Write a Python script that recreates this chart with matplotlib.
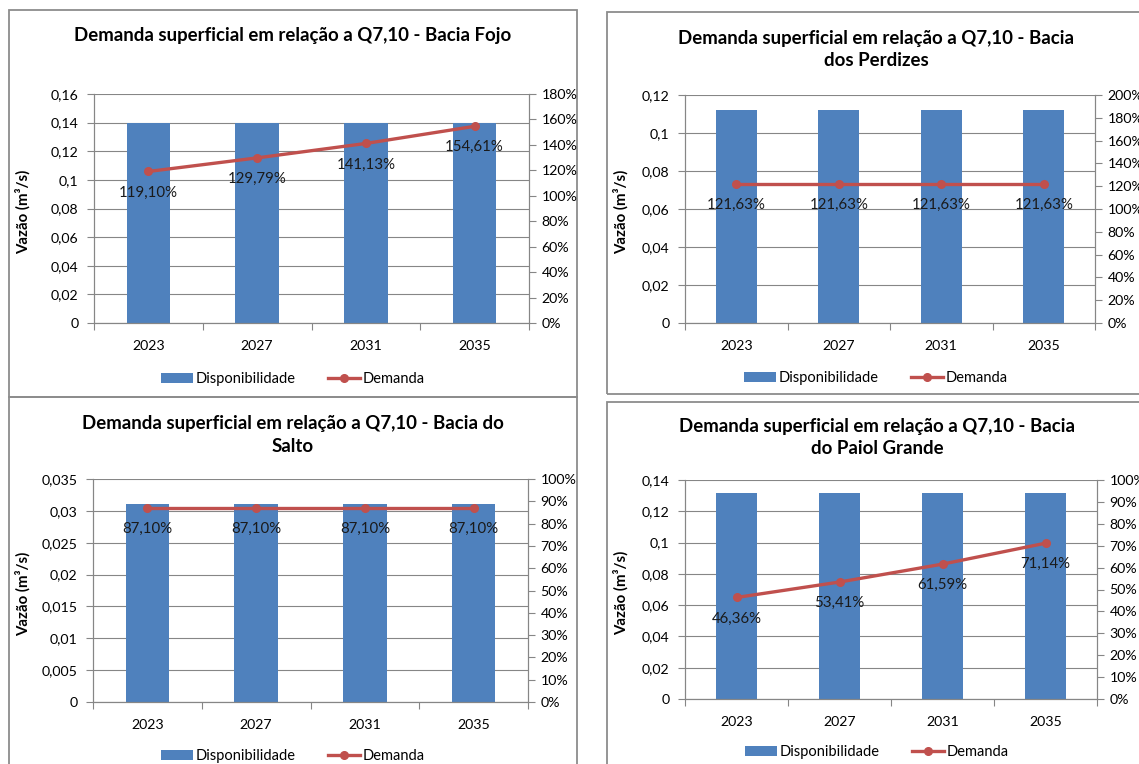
import matplotlib
matplotlib.use("Agg")
import matplotlib.pyplot as plt
from matplotlib.patches import Rectangle, Patch
from matplotlib.lines import Line2D
from matplotlib.ticker import FixedLocator, FuncFormatter

plt.rcParams["font.family"] = ["Lato", "DejaVu Sans"]

# ---- data -------------------------------------------------------------
anos = ["2023", "2027", "2031", "2035"]

fojo_disp = [0.14, 0.14, 0.14, 0.14]
fojo_dem = [119.10, 129.79, 141.13, 154.61]

perdizes_disp = [0.112, 0.112, 0.112, 0.112]
perdizes_dem = [121.63, 121.63, 121.63, 121.63]

salto_disp = [0.031, 0.031, 0.031, 0.031]
salto_dem = [87.10, 87.10, 87.10, 87.10]

paiol_disp = [0.1317, 0.1317, 0.1317, 0.1317]
paiol_dem = [46.36, 53.41, 61.59, 71.14]

titulos = [
    "Demanda superficial em relação a Q7,10 - Bacia Fojo",
    "Demanda superficial em relação a Q7,10 - Bacia\ndos Perdizes",
    "Demanda superficial em relação a Q7,10 - Bacia do\nSalto",
    "Demanda superficial em relação a Q7,10 - Bacia\ndo Paiol Grande",
]

# ---- style -------------------------------------------------------------
W, H = 1139, 764
AZUL = "#4F81BD"
VERMELHO = "#C0504D"
CINZA = "#868686"
BORDA = "#8C8C8C"
FS_TICK = 10.2
FS_TITLE = 13.4

fig = plt.figure(figsize=(W / 100, H / 100), dpi=100)
fig.patch.set_facecolor("white")


def fx(x):
    return x / W


def fy(y):
    return 1 - y / H


def moldura(l, t, r, b):
    fig.patches.append(Rectangle((fx(l), fy(b)), fx(r) - fx(l), fy(t) - fy(b),
                                 transform=fig.transFigure, fill=False,
                                 edgecolor=BORDA, linewidth=1.3, zorder=0))


def virgula(v, _pos=None):
    return ("%g" % round(v, 6)).replace(".", ",")


def grafico(box, panel_cx, title_y, ylab_x, legend_y, xlab_pad,
            disp, dem, ymax, ystep, pmax, pstep, titulo):
    l, t, r, b = box
    ax = fig.add_axes([fx(l), fy(b), fx(r) - fx(l), fy(t) - fy(b)])
    ax2 = ax.twinx()
    ax2.set_zorder(ax.get_zorder() + 1)
    ax2.patch.set_visible(False)

    x = list(range(len(anos)))
    ax.bar(x, disp, width=0.4, color=AZUL, zorder=2)
    ax.set_xlim(-0.5, len(anos) - 0.5)
    ax.set_ylim(0, ymax)
    n = int(round(ymax / ystep))
    ax.yaxis.set_major_locator(FixedLocator([i * ystep for i in range(n + 1)]))
    ax.yaxis.set_major_formatter(FuncFormatter(virgula))
    ax.set_axisbelow(True)
    ax.grid(axis="y", color=CINZA, linewidth=0.8, zorder=0)
    ax.grid(axis="x", visible=False)

    ax.set_xticks(x)
    ax.set_xticklabels(anos)
    ax.set_xticks([i - 0.5 for i in range(len(anos) + 1)], minor=True)
    ax.tick_params(axis="x", which="major", length=0, pad=xlab_pad,
                   labelsize=FS_TICK)
    ax.tick_params(axis="x", which="minor", length=5, color=CINZA, width=0.8)
    ax.tick_params(axis="y", length=5, color=CINZA, width=0.8, pad=6,
                   labelsize=FS_TICK)

    frac = [v / 100 for v in dem]
    ax2.plot(x, frac, color=VERMELHO, linewidth=2.4, marker="o",
             markersize=5.5, zorder=3, clip_on=False)
    ax2.set_ylim(0, pmax / 100)
    m = int(round(pmax / pstep))
    ax2.yaxis.set_major_locator(FixedLocator([i * pstep / 100 for i in range(m + 1)]))
    ax2.yaxis.set_major_formatter(FuncFormatter(lambda v, p: "%d%%" % round(v * 100)))
    ax2.tick_params(axis="y", length=5, color=CINZA, width=0.8, pad=4,
                    labelsize=FS_TICK)

    for xi, v in zip(x, dem):
        ax2.annotate(("%.2f%%" % v).replace(".", ","), xy=(xi, v / 100),
                     xytext=(0, -21), textcoords="offset pixels",
                     ha="center", va="center", fontsize=FS_TICK + 0.6,
                     color="#1a1a1a", zorder=4)

    for a in (ax, ax2):
        a.spines["top"].set_visible(False)
        for s in ("left", "right", "bottom"):
            a.spines[s].set_color(CINZA)
            a.spines[s].set_linewidth(0.8)

    fig.text(fx(panel_cx), fy(title_y), titulo, ha="center", va="center",
             fontsize=FS_TITLE, fontweight="bold", linespacing=1.42)
    fig.text(fx(ylab_x), fy((t + b) / 2 + 3), "Vazão (m³/s)", rotation=90,
             ha="center", va="center", fontsize=FS_TICK + 0.6, fontweight="bold")

    handles = [Patch(facecolor=AZUL, edgecolor="none"),
               Line2D([], [], color=VERMELHO, linewidth=2.4, marker="o",
                      markersize=5.5)]
    fig.legend(handles, ["Disponibilidade", "Demanda"], ncol=2, frameon=False,
               loc="center", bbox_to_anchor=(fx(panel_cx), fy(legend_y)),
               fontsize=FS_TICK + 0.3, handlelength=2.2, handletextpad=0.2,
               columnspacing=2.2, borderaxespad=0, borderpad=0)


# panel frames
moldura(9, 10, 577, 397)
moldura(607, 12, 1145, 394)
moldura(9, 397, 577, 790)
moldura(607, 402, 1145, 790)

grafico((94, 94, 529, 323), 293, 35, 23, 379, 12,
        fojo_disp, fojo_dem, 0.16, 0.02, 180, 20, titulos[0])
grafico((685, 95, 1095, 323), 876, 49.5, 621, 378, 12,
        perdizes_disp, perdizes_dem, 0.12, 0.02, 200, 20, titulos[1])
grafico((93, 479, 528, 702), 293, 435, 23, 756, 12,
        salto_disp, salto_dem, 0.035, 0.005, 100, 10, titulos[2])
grafico((685, 480, 1097, 699), 877, 437.5, 621, 752, 12,
        paiol_disp, paiol_dem, 0.14, 0.02, 100, 10, titulos[3])

fig.savefig("out.png", dpi=100, facecolor="white")
